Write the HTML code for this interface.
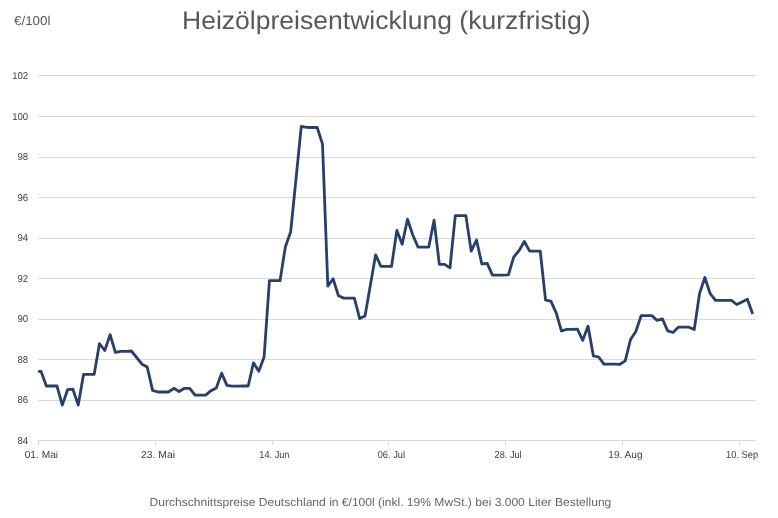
<!DOCTYPE html>
<html><head><meta charset="utf-8">
<style>
html,body{margin:0;padding:0;background:#fff;}
body{width:778px;height:518px;overflow:hidden;position:relative;}
svg{position:absolute;left:0;top:0;will-change:transform;}
text{font-family:"Liberation Sans",sans-serif;text-rendering:geometricPrecision;}
</style></head>
<body>
<svg width="778" height="518" viewBox="0 0 778 518">
<rect width="778" height="518" fill="#fff"/>
<g fill="#d9d9d9">
<rect x="38" y="440" width="718" height="1"/>
<rect x="38" y="400" width="718" height="1"/>
<rect x="38" y="359" width="718" height="1"/>
<rect x="38" y="319" width="718" height="1"/>
<rect x="38" y="278" width="718" height="1"/>
<rect x="38" y="238" width="718" height="1"/>
<rect x="38" y="197" width="718" height="1"/>
<rect x="38" y="157" width="718" height="1"/>
<rect x="38" y="116" width="718" height="1"/>
<rect x="38" y="75" width="718" height="1"/>
<rect x="38" y="441" width="1" height="4"/>
<rect x="155" y="441" width="1" height="4"/>
<rect x="272" y="441" width="1" height="4"/>
<rect x="388" y="441" width="1" height="4"/>
<rect x="505" y="441" width="1" height="4"/>
<rect x="622" y="441" width="1" height="4"/>
<rect x="739" y="441" width="1" height="4"/>
</g>
<g fill="#404040" font-size="10" text-anchor="end">
<text transform="translate(28.2 443.88) scale(0.96 1)">84</text>
<text transform="translate(28.2 403.35) scale(0.96 1)">86</text>
<text transform="translate(28.2 362.83) scale(0.96 1)">88</text>
<text transform="translate(28.2 322.30) scale(0.96 1)">90</text>
<text transform="translate(28.2 281.78) scale(0.96 1)">92</text>
<text transform="translate(28.2 241.25) scale(0.96 1)">94</text>
<text transform="translate(28.2 200.72) scale(0.96 1)">96</text>
<text transform="translate(28.2 160.20) scale(0.96 1)">98</text>
<text transform="translate(28.2 119.67) scale(0.96 1)">100</text>
<text transform="translate(28.2 79.15) scale(0.96 1)">102</text>
</g>
<g fill="#404040" font-size="10.2" text-anchor="middle">
<text transform="translate(41.40 458) scale(1.000 1)">01. Mai</text>
<text transform="translate(158.00 458) scale(1.020 1)">23. Mai</text>
<text transform="translate(274.40 458) scale(0.900 1)">14. Jun</text>
<text transform="translate(391.35 458) scale(0.910 1)">06. Jul</text>
<text transform="translate(508.10 458) scale(0.900 1)">28. Jul</text>
<text transform="translate(625.40 458) scale(0.990 1)">19. Aug</text>
<text transform="translate(742.10 458) scale(0.910 1)">10. Sep</text>
</g>
<text transform="translate(386.25 28.9) scale(1.037 1)" fill="#595959" font-size="25.6" text-anchor="middle">Heizölpreisentwicklung (kurzfristig)</text>
<text transform="translate(14 25.4) scale(1.045 1)" fill="#595959" font-size="12.8">€/100l</text>
<text transform="translate(380.4 506) scale(1.04 1)" fill="#666" font-size="11.6" text-anchor="middle">Durchschnittspreise Deutschland in €/100l (inkl. 19% MwSt.) bei 3.000 Liter Bestellung</text>
<polyline fill="none" stroke="#263f6b" stroke-width="2.8" stroke-linejoin="round" points="38.2,371.3 41.06,371.50 46.37,386.00 51.68,386.00 56.99,386.00 62.30,405.10 67.61,389.70 72.92,389.20 78.23,405.10 83.54,374.40 88.85,374.40 94.16,374.40 99.47,343.60 104.78,350.50 110.09,334.60 115.40,352.40 120.71,351.30 126.02,351.30 131.34,351.00 136.65,357.50 141.96,364.20 147.27,367.10 152.58,390.40 157.89,392.00 163.20,392.00 168.51,392.00 173.82,388.30 179.13,391.50 184.44,388.30 189.75,388.30 195.06,395.10 200.37,395.10 205.68,395.10 210.99,390.70 216.31,388.00 221.62,373.10 226.93,385.40 232.24,386.20 237.55,386.20 242.86,386.00 248.17,386.00 253.48,362.80 258.79,371.30 264.10,357.00 269.41,280.70 274.72,280.70 280.03,280.70 285.34,246.90 290.65,232.00 295.96,179.30 301.27,126.30 306.59,127.30 311.90,127.50 317.21,127.50 322.52,144.20 327.83,286.20 333.14,278.80 338.45,295.80 343.76,298.10 349.07,298.10 354.38,298.10 359.69,318.60 365.00,316.00 370.31,285.40 375.62,254.80 380.93,266.30 386.24,266.30 391.55,266.30 396.87,230.40 402.18,244.20 407.49,219.20 412.80,235.00 418.11,247.20 423.42,247.20 428.73,247.20 434.04,220.20 439.35,264.30 444.66,264.30 449.97,267.80 455.28,215.60 460.59,215.60 465.90,215.60 471.21,251.20 476.52,240.00 481.84,264.00 487.15,263.40 492.46,275.10 497.77,275.10 503.08,275.10 508.39,274.80 513.70,257.10 519.01,250.70 524.32,241.40 529.63,251.20 534.94,251.20 540.25,251.20 545.56,300.20 550.87,301.20 556.18,312.90 561.49,331.00 566.80,329.40 572.12,329.40 577.43,329.10 582.74,340.30 588.05,326.10 593.36,355.90 598.67,357.00 603.98,364.20 609.29,364.20 614.60,364.20 619.91,364.30 625.22,360.90 630.53,339.50 635.84,331.50 641.15,315.60 646.46,315.60 651.77,315.60 657.08,320.40 662.40,318.90 667.71,330.90 673.02,332.50 678.33,327.20 683.64,327.20 688.95,327.20 694.26,329.50 699.57,293.40 704.88,277.50 710.19,293.70 715.50,300.30 720.81,300.30 726.12,300.30 731.43,300.30 736.74,304.50 742.05,301.90 747.37,299.20 752.68,313.90"/>
</svg>
</body></html>
